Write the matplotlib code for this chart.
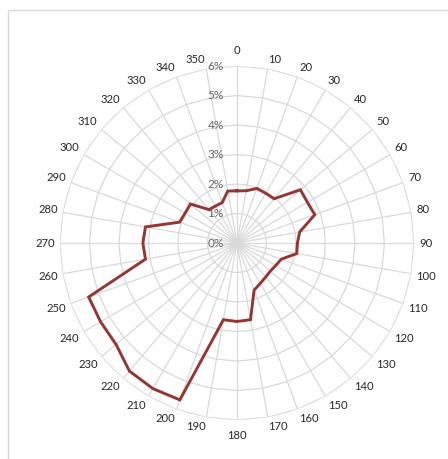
import numpy as np
import matplotlib
matplotlib.use("Agg")
import matplotlib.pyplot as plt
from matplotlib.patches import Rectangle

# wind direction categories (degrees) and share of observations (%)
directions = [0, 10, 20, 30, 40, 50, 60, 70, 80, 90, 100, 110,
              120, 130, 140, 150, 160, 170, 180, 190, 200, 210, 220, 230,
              240, 250, 260, 270, 280, 290, 300, 310, 320, 330, 340, 350]
share = [1.77, 1.80, 1.97, 1.95, 1.96, 2.81, 2.76, 2.81, 2.16, 2.05, 2.06, 1.60,
         1.52, 1.48, 1.51, 1.58, 1.70, 2.64, 2.66, 2.64, 5.66, 5.70, 5.67, 5.35,
         5.34, 5.35, 3.15, 3.19, 3.15, 2.07, 2.03, 2.06, 1.48, 1.45, 1.46, 1.79]
levels = [0, 1, 2, 3, 4, 5, 6]

plt.rcParams['font.family'] = ['Lato', 'DejaVu Sans']
grid_col = '#d9d9d9'
line_col = '#943634'
px = 72 / 100  # points per pixel

fig = plt.figure(figsize=(4.48, 4.59), dpi=100)
ax = fig.add_axes([0.1339, 0.085, 0.790, 0.771], projection='polar')
ax.set_theta_zero_location('N')
ax.set_theta_direction(-1)
ax.set_ylim(0, 6)
ax.grid(False)
ax.spines['polar'].set_visible(False)
ax.set_xticks([])
ax.set_yticks([])

theta = np.deg2rad(directions)
closed = np.append(theta, theta[0])

# polygon gridlines and spokes
for lv in levels[1:]:
    ax.plot(closed, [lv] * len(closed), color=grid_col, lw=0.9, zorder=1)
for t in theta:
    ax.plot([t, t], [0, levels[-1]], color=grid_col, lw=0.9, zorder=1)

# data series
ax.plot(closed, share + [share[0]], color=line_col, lw=2.1, zorder=3,
        solid_joinstyle='miter')

# category labels, pushed outward from the end of each spoke
for d, t in zip(directions, theta):
    s, c = np.sin(t), np.cos(t)
    if abs(s) < 0.01:
        ha = 'center'
        dx, dy = 0, np.sign(c) * 16
    else:
        ha = 'left' if s > 0 else 'right'
        dx = 5 * s
        dy = 5 * c + 4.5 * np.clip(2 * c, -1, 1)
    ax.annotate(str(d), xy=(t, 6), xytext=(dx * px, dy * px),
                textcoords='offset points', ha=ha, va='center',
                fontsize=8.1, color='#262626')

# radial value labels
for lv in levels:
    ax.annotate(f"{lv}%", xy=(0, lv), xytext=(-13 * px, 0), textcoords='offset points',
                ha='right', va='center', fontsize=8.6, color='#666666', zorder=4)

# chart area border
fig.add_artist(Rectangle((8 / 448, -0.1), 1.0, 1 - 10 / 459 + 0.1, fill=False,
                         ec=grid_col, lw=1.0, transform=fig.transFigure))

fig.savefig('out.png', dpi=100)
